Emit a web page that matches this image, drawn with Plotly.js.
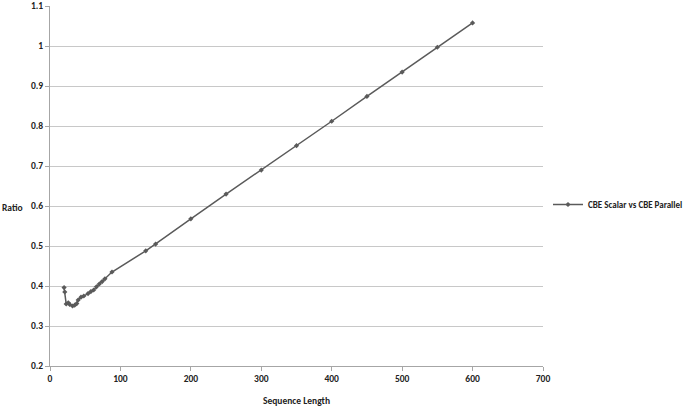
<!DOCTYPE html>
<html>
<head>
<meta charset="utf-8">
<script src="https://cdn.plot.ly/plotly-3.0.1.min.js"></script>
<style>
  body { margin: 0; background: #fff; }
  #chart { width: 685px; height: 409px; }
</style>
</head>
<body>
<div id="chart"></div>
<script>
// sequence length vs ratio
const seqLength = [20, 21, 23, 26, 28, 32, 35, 38, 40, 44, 48, 54, 58, 62, 66, 70, 74, 78, 88,
  136, 150, 200, 250, 300, 350, 400, 450, 500, 550, 600];
const ratio = [0.396, 0.385, 0.355, 0.358, 0.354, 0.35, 0.352, 0.356, 0.365, 0.372, 0.375, 0.381,
  0.386, 0.39, 0.398, 0.405, 0.411, 0.418, 0.435,
  0.488, 0.505, 0.568, 0.63, 0.69, 0.751, 0.812, 0.874, 0.935, 0.997, 1.058];
const seriesName = 'CBE Scalar vs CBE Parallel';

const fontFam = 'Carlito, "Liberation Sans Narrow", "DejaVu Sans Condensed", sans-serif';
const txt = { family: fontFam, size: 9.5, color: '#222', weight: 'bold' };

const data = [
  {
    x: seqLength,
    y: ratio,
    type: 'scatter',
    mode: 'lines+markers',
    name: seriesName,
    line: { color: '#5a5a5a', width: 1.5 },
    marker: { color: '#5a5a5a', size: 4, symbol: 'diamond' }
  }
];

const layout = {
  width: 685,
  height: 409,
  margin: { l: 50, r: 142, t: 6, b: 43, autoexpand: false },
  paper_bgcolor: '#fff',
  plot_bgcolor: '#fff',
  font: txt,
  showlegend: true,
  legend: {
    xref: 'container', yref: 'container',
    x: 0.8, y: 0.5, xanchor: 'left', yanchor: 'middle',
    font: { family: fontFam, size: 9, color: '#222', weight: 'bold' },
    bgcolor: 'rgba(0,0,0,0)'
  },
  xaxis: {
    range: [0, 700],
    dtick: 100,
    showgrid: false,
    zeroline: false,
    showline: true,
    linecolor: '#a6a6a6',
    ticks: 'outside',
    ticklen: 4,
    tickcolor: '#a6a6a6',
    tickfont: txt,
    automargin: false,
    ticklabeloverflow: 'allow',
    title: { text: 'Sequence Length', standoff: 12, font: txt }
  },
  yaxis: {
    range: [0.2, 1.1002],
    dtick: 0.1,
    showgrid: true,
    gridcolor: '#c8c8c8',
    zeroline: false,
    showline: true,
    linecolor: '#a6a6a6',
    ticks: 'outside',
    ticklen: 4,
    tickcolor: '#a6a6a6',
    automargin: false,
    ticklabeloverflow: 'allow',
    tickfont: txt
  },
  annotations: [
    {
      text: 'Ratio',
      xref: 'paper', yref: 'paper',
      x: -0.1014, y: 0.44, xanchor: 'left', yanchor: 'middle',
      showarrow: false,
      font: txt
    }
  ]
};

Plotly.newPlot('chart', data, layout, { displayModeBar: false, staticPlot: true });
</script>
</body>
</html>
